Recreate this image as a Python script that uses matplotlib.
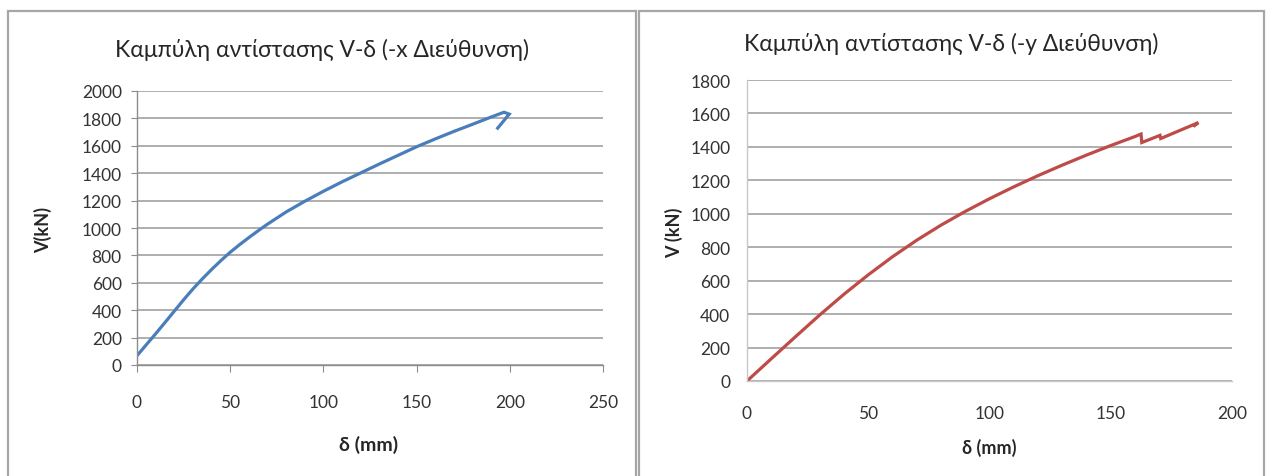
import numpy as np
import matplotlib.pyplot as plt
from matplotlib.patches import Rectangle

plt.rcParams['font.family'] = ['Lato', 'Roboto', 'DejaVu Sans']

# pushover curve, -x direction
delta_x = [0, 5, 10, 15, 20, 25, 30, 35, 40, 45, 50, 55, 60, 65, 70, 80, 90, 100,
           110, 120, 130, 140, 150, 160, 170, 180, 190, 196.9, 199.7, 193.5]
shear_x = [68, 148, 228, 310, 393, 476, 555, 628, 697, 762, 823, 878, 930, 980, 1028, 1117, 1195, 1268,
           1337, 1402, 1467, 1530, 1593, 1650, 1705, 1757, 1810, 1845, 1831, 1729]

# pushover curve, -y direction
delta_y = [0, 10, 20, 30, 40, 50, 60, 70, 80, 90, 100, 110, 120, 130, 140, 150, 160,
           162.5, 162.8, 170.3, 170.6, 186.1, 184.6]
shear_y = [0, 133, 265, 395, 519, 635, 743, 842, 932, 1014, 1090, 1161, 1228, 1291, 1351, 1408, 1462,
           1477, 1426, 1469, 1450, 1545, 1528]

title_x = 'Καμπύλη αντίστασης V-δ (-x Διεύθυνση)'
title_y = 'Καμπύλη αντίστασης V-δ (-y Διεύθυνση)'

W, H = 1266, 477
fig = plt.figure(figsize=(W / 100, H / 100), dpi=100)
fig.patch.set_facecolor('white')

def frac(x0, y0, x1, y1):
    # pixel box -> figure fraction [left, bottom, width, height]
    return [x0 / W, 1 - y1 / H, (x1 - x0) / W, (y1 - y0) / H]

# chart frames
for x0, x1 in [(8, 636), (639, 1264)]:
    fig.add_artist(Rectangle((x0 / W, -0.1), (x1 - x0) / W, 1.1 - 12 / H,
                             transform=fig.transFigure, fill=False,
                             edgecolor='#a6a6a6', lw=1.6))

grid_c = '#a8a8a8'
axis_c = '#8c8c8c'
tick_c = '#333333'

ax1 = fig.add_axes(frac(137, 92, 603, 366))
ax1.plot(delta_x, shear_x, color='#4A7EBB', lw=2.3, solid_joinstyle='miter')
ax1.set_xlim(0, 250)
ax1.set_ylim(0, 2000)
ax1.set_xticks(np.arange(0, 251, 50))
ax1.set_yticks(np.arange(0, 2001, 200))
ax1.grid(axis='y', color=grid_c, lw=1.3)
ax1.set_axisbelow(True)
for s in ['top', 'right']:
    ax1.spines[s].set_visible(False)
for s in ['left', 'bottom']:
    ax1.spines[s].set_color(axis_c)
    ax1.spines[s].set_linewidth(1.0)
ax1.tick_params(axis='y', length=4, color=axis_c, pad=7, labelsize=12.5, labelcolor=tick_c)
ax1.tick_params(axis='x', length=5, color=axis_c, pad=16, labelsize=12.5, labelcolor=tick_c)

ax2 = fig.add_axes(frac(747, 81, 1232, 382))
ax2.plot(delta_y, shear_y, color='#BE4B48', lw=2.3, solid_joinstyle='miter')
ax2.set_xlim(0, 200)
ax2.set_ylim(0, 1800)
ax2.set_xticks(np.arange(0, 201, 50))
ax2.set_yticks(np.arange(0, 1801, 200))
ax2.grid(axis='y', color=grid_c, lw=1.3)
ax2.set_axisbelow(True)
for s in ['top', 'right']:
    ax2.spines[s].set_visible(False)
for s in ['left', 'bottom']:
    ax2.spines[s].set_color('#c8c8c8')
    ax2.spines[s].set_linewidth(1.0)
ax2.tick_params(axis='y', length=0, pad=12, labelsize=12.5, labelcolor=tick_c)
ax2.tick_params(axis='x', length=0, pad=17, labelsize=12.5, labelcolor=tick_c)

# titles and axis labels
fig.text(322 / W, 1 - 50 / H, title_x, ha='center', va='center', fontsize=16.5, color='#262626')
fig.text(951 / W, 1 - 44 / H, title_y, ha='center', va='center', fontsize=16.5, color='#262626')
fig.text(43 / W, 1 - 230 / H, 'V(kN)', rotation=90, ha='center', va='center',
         fontsize=13, fontweight='bold', color='#262626')
fig.text(674 / W, 1 - 233 / H, 'V (kN)', rotation=90, ha='center', va='center',
         fontsize=13, fontweight='bold', color='#262626')
fig.text(369 / W, 1 - 445 / H, 'δ (mm)', ha='center', va='center',
         fontsize=14, fontweight='bold', color='#262626')
fig.text(989 / W, 1 - 448 / H, 'δ (mm)', ha='center', va='center',
         fontsize=13, fontweight='bold', color='#262626')

fig.savefig('out.png', dpi=100)
